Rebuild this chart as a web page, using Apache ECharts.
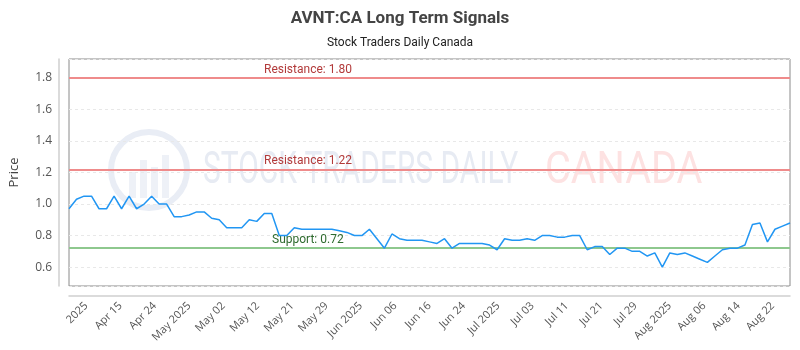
<!DOCTYPE html>
<html>
<head>
<meta charset="utf-8">
<script src="https://cdn.jsdelivr.net/npm/echarts@6/dist/echarts.min.js"></script>
<style>
  html, body { margin: 0; padding: 0; background: #fff; }
  #chart { width: 800px; height: 350px; }
</style>
</head>
<body>
<div id="chart"></div>
<script>
// trading days shown on the chart
const dates = [
  'Apr 04','Apr 07','Apr 08','Apr 09','Apr 10','Apr 11','Apr 14','Apr 15','Apr 16','Apr 17',
  'Apr 21','Apr 22','Apr 23','Apr 24','Apr 25','Apr 28','Apr 29','Apr 30',
  'May 01','May 02','May 05','May 06','May 07','May 08','May 09','May 12','May 13','May 14',
  'May 15','May 16','May 20','May 21','May 22','May 23','May 26','May 27','May 28','May 29','May 30',
  'Jun 02','Jun 03','Jun 04','Jun 05','Jun 06','Jun 09','Jun 10','Jun 11','Jun 12','Jun 13',
  'Jun 16','Jun 17','Jun 18','Jun 19','Jun 20','Jun 23','Jun 24','Jun 25','Jun 26','Jun 27','Jun 30',
  'Jul 02','Jul 03','Jul 04','Jul 07','Jul 08','Jul 09','Jul 10','Jul 11','Jul 14','Jul 15',
  'Jul 16','Jul 17','Jul 18','Jul 21','Jul 22','Jul 23','Jul 24','Jul 25','Jul 28','Jul 29','Jul 30','Jul 31',
  'Aug 01','Aug 05','Aug 06','Aug 07','Aug 08','Aug 11','Aug 12','Aug 13','Aug 14','Aug 15',
  'Aug 18','Aug 19','Aug 20','Aug 21','Aug 22'
];

// closing prices
const prices = [
  0.97, 1.03, 1.05, 1.05, 0.97, 0.97, 1.05, 0.97, 1.05, 0.97,
  1.00, 1.05, 1.00, 1.00, 0.92, 0.92, 0.93, 0.95, 0.95, 0.91,
  0.90, 0.85, 0.85, 0.85, 0.90, 0.89, 0.94, 0.94, 0.80, 0.80,
  0.85, 0.84, 0.84, 0.84, 0.84, 0.84, 0.83, 0.82, 0.80, 0.80,
  0.84, 0.78, 0.72, 0.81, 0.78, 0.77, 0.77, 0.77, 0.76, 0.75,
  0.78, 0.72, 0.75, 0.75, 0.75, 0.75, 0.74, 0.71, 0.78, 0.77,
  0.77, 0.78, 0.77, 0.80, 0.80, 0.79, 0.79, 0.80, 0.80, 0.71,
  0.73, 0.73, 0.68, 0.72, 0.72, 0.70, 0.70, 0.67, 0.69, 0.60,
  0.69, 0.68, 0.69, 0.67, 0.65, 0.63, 0.67, 0.71, 0.72, 0.72,
  0.74, 0.87, 0.88, 0.76, 0.84, 0.86, 0.88
];

// x axis labels as printed under the chart
const tickLabels = [
  '2025','Apr 15','Apr 24','May 2025','May 02','May 12','May 21','May 29',
  'Jun 2025','Jun 06','Jun 16','Jun 24','Jul 2025','Jul 03','Jul 11',
  'Jul 21','Jul 29','Aug 2025','Aug 06','Aug 14','Aug 22'
];

const resistanceLevels = [1.80, 1.22];
const supportLevels = [0.72];

const chart = echarts.init(document.getElementById('chart'));

const narrow = '"Liberation Sans Narrow", "Roboto", sans-serif';
const sans = '"Open Sans", "Noto Sans", sans-serif';

const levelLines = [];
resistanceLevels.forEach(v => {
  levelLines.push({
    yAxis: v,
    lineStyle: { color: '#ef8b8b', width: 2, type: 'solid' },
    label: {
      formatter: 'Resistance: ' + v.toFixed(2),
      color: '#b23a3a',
      distance: [195, 2]
    }
  });
});
supportLevels.forEach(v => {
  levelLines.push({
    yAxis: v,
    lineStyle: { color: '#8ec88e', width: 2, type: 'solid' },
    label: {
      formatter: 'Support: ' + v.toFixed(2),
      color: '#2f6b2f',
      distance: [203, 2]
    }
  });
});

const option = {
  animation: false,
  backgroundColor: '#fff',
  title: {
    text: 'AVNT:CA Long Term Signals',
    subtext: 'Stock Traders Daily Canada',
    left: 'center',
    top: 5,
    itemGap: 10,
    textStyle: { fontFamily: narrow, fontWeight: 'bold', fontSize: 17, color: '#444' },
    subtextStyle: { fontFamily: narrow, fontSize: 12, color: '#222' }
  },
  graphic: [
    {
      type: 'group',
      silent: true,
      z: 0,
      children: [
        { type: 'circle', shape: { cx: 149, cy: 170, r: 38 },
          style: { fill: 'none', stroke: '#e9edf5', lineWidth: 6 } },
        { type: 'rect', shape: { x: 129, y: 172, width: 7, height: 26 }, style: { fill: '#eef1f7' } },
        { type: 'rect', shape: { x: 140, y: 160, width: 7, height: 38 }, style: { fill: '#eef1f7' } },
        { type: 'rect', shape: { x: 151, y: 167, width: 7, height: 31 }, style: { fill: '#eef1f7' } },
        { type: 'rect', shape: { x: 162, y: 155, width: 7, height: 43 }, style: { fill: '#eef1f7' } },
        { type: 'text', x: 203, y: 150, scaleX: 0.68,
          style: { text: 'STOCK TRADERS DAILY', font: '44px ' + narrow, fill: '#e7ebf3' } },
        { type: 'text', x: 545, y: 150, scaleX: 0.9,
          style: { text: 'CANADA', font: '44px ' + narrow, fill: '#fde2e2' } }
      ]
    }
  ],
  grid: {
    left: 63,
    right: 10,
    top: 59,
    bottom: 64,
    show: true,
    borderColor: '#8a8a8a',
    borderWidth: 1,
    backgroundColor: 'transparent'
  },
  xAxis: [
    {
      type: 'category',
      data: dates,
      boundaryGap: false,
      show: false
    },
    {
      type: 'category',
      data: tickLabels,
      boundaryGap: true,
      position: 'bottom',
      offset: 10,
      axisLine: { show: true, lineStyle: { color: '#cfcfcf', width: 1.5 } },
      axisTick: { show: false },
      splitLine: { show: false },
      axisLabel: {
        interval: 0,
        rotate: 45,
        margin: 8,
        fontFamily: sans,
        fontSize: 11,
        color: '#555'
      }
    }
  ],
  yAxis: {
    type: 'value',
    min: 0.48,
    max: 1.92,
    splitNumber: 7,
    offset: 10,
    name: 'Price',
    nameLocation: 'middle',
    nameGap: 38,
    nameTextStyle: { fontFamily: sans, fontSize: 13, color: '#444' },
    axisLine: { show: true, lineStyle: { color: '#cfcfcf', width: 1.5 } },
    axisTick: { show: false },
    axisLabel: {
      margin: 7,
      fontFamily: sans,
      fontSize: 12,
      color: '#555',
      formatter: v => (Math.round(v * 100) % 20 === 0 ? v.toFixed(1) : '')
    },
    splitLine: { show: true, lineStyle: { color: '#e8e8e8', type: [3, 3], width: 1 } }
  },
  series: [
    {
      name: 'Price',
      type: 'line',
      xAxisIndex: 0,
      data: prices,
      showSymbol: false,
      symbol: 'none',
      lineStyle: { color: '#2196f3', width: 1.5 },
      z: 3,
      markLine: {
        silent: true,
        symbol: 'none',
        z: 2,
        label: {
          position: 'insideStartTop',
          fontFamily: narrow,
          fontSize: 12
        },
        data: levelLines
      }
    }
  ]
};

chart.setOption(option);
</script>
</body>
</html>
